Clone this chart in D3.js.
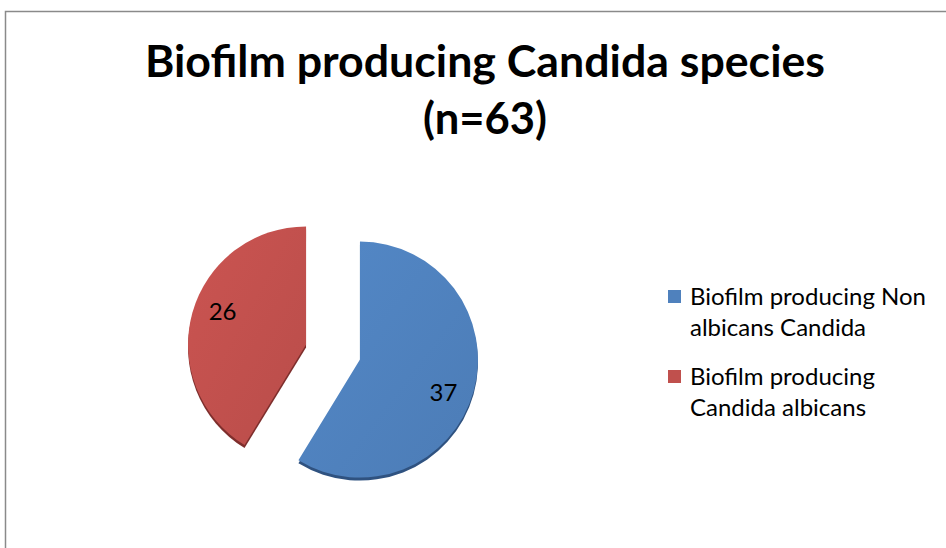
<!DOCTYPE html>
<html>
<head>
<meta charset="utf-8">
<script src="https://cdn.jsdelivr.net/npm/d3@7"></script>
<style>
  body { margin: 0; background: #fff; }
  svg { display: block; }
</style>
</head>
<body>
<svg width="946" height="548"></svg>
<script>
// data
var categories = ["Biofilm producing Non albicans Candida", "Biofilm producing Candida albicans"];
var values = [37, 26];
var legendLines = [["Biofilm producing Non", "albicans Candida"], ["Biofilm producing", "Candida albicans"]];
var colors = ["#4F81BD", "#C0504D"];
var darkColors = ["#2f5280", "#7e2e2c"];
var titleLines = ["Biofilm producing Candida species", "(n=63)"];

var svg = d3.select("svg"),
    width = 946,
    height = 548;

// chart frame (runs off right and bottom)
svg.append("rect")
    .attr("x", 5.5).attr("y", 11.5)
    .attr("width", 1000).attr("height", 600)
    .attr("fill", "none")
    .attr("stroke", "#8a8a8a")
    .attr("stroke-width", 1.5);

// title
svg.append("g").selectAll("text")
    .data(titleLines)
    .enter().append("text")
    .attr("x", 485)
    .attr("y", (d, i) => 77 + i * 57)
    .attr("text-anchor", "middle")
    .attr("font-family", "Lato, 'Open Sans', sans-serif")
    .attr("font-weight", "bold")
    .attr("font-size", 44)
    .attr("textLength", (d, i) => i == 0 ? 680 : 124)
    .attr("lengthAdjust", "spacingAndGlyphs")
    .attr("fill", "#000")
    .text(d => d);

// gradients for a slight glossy look
var defs = svg.append("defs");
colors.forEach(function(c, i) {
  var g = defs.append("linearGradient")
      .attr("id", "grad" + i)
      .attr("x1", "0").attr("y1", "0")
      .attr("x2", "1").attr("y2", "1");
  g.append("stop").attr("offset", "0%").attr("stop-color", d3.color(c).brighter(0.15));
  g.append("stop").attr("offset", "100%").attr("stop-color", d3.color(c).darker(0.1));
});

//////////// PIE ////////////
var cx = 333, cy = 352, r = 118, explode = 28;
var labelTurn = 0.1; // data labels sit a little clockwise of the slice middle

var pie = d3.pie().sort(null).startAngle(0).endAngle(2 * Math.PI);
var arcs = pie(values);
var arc = d3.arc().innerRadius(0).outerRadius(r);

function offset(d) {
  var a = (d.startAngle + d.endAngle) / 2;
  return [Math.sin(a) * explode, -Math.cos(a) * explode];
}

function labelPos(d) {
  var a = (d.startAngle + d.endAngle) / 2 + labelTurn;
  return [Math.sin(a) * r * 0.76, -Math.cos(a) * r * 0.76];
}

var slices = svg.append("g")
    .attr("transform", `translate(${cx},${cy})`)
    .selectAll("g")
    .data(arcs)
    .enter().append("g")
    .attr("transform", d => `translate(${offset(d)[0]},${offset(d)[1]})`);

// side / thickness
slices.append("path")
    .attr("d", arc)
    .attr("transform", "translate(0,3)")
    .attr("fill", (d, i) => darkColors[i]);

slices.append("path")
    .attr("d", arc)
    .attr("fill", (d, i) => `url(#grad${i})`);

slices.append("text")
    .attr("transform", d => `translate(${labelPos(d)[0]},${labelPos(d)[1]})`)
    .attr("dy", "0.35em")
    .attr("text-anchor", "middle")
    .attr("font-family", "Lato, 'Open Sans', sans-serif")
    .attr("font-size", 24)
    .attr("fill", "#000")
    .text(d => d.data);

//////////// LEGEND ////////////
var legend = svg.append("g")
    .selectAll("g")
    .data(categories)
    .enter().append("g")
    .attr("transform", (d, i) => `translate(668,${290 + i * 80})`);

legend.append("rect")
    .attr("width", 13).attr("height", 13)
    .attr("fill", (d, i) => colors[i]);

legend.append("text")
    .attr("font-family", "Lato, 'Open Sans', sans-serif")
    .attr("font-size", 24)
    .attr("fill", "#000")
    .selectAll("tspan")
    .data((d, i) => legendLines[i])
    .enter().append("tspan")
    .attr("x", 22)
    .attr("y", (d, j) => 15 + j * 31)
    .text(d => d);
</script>
</body>
</html>
